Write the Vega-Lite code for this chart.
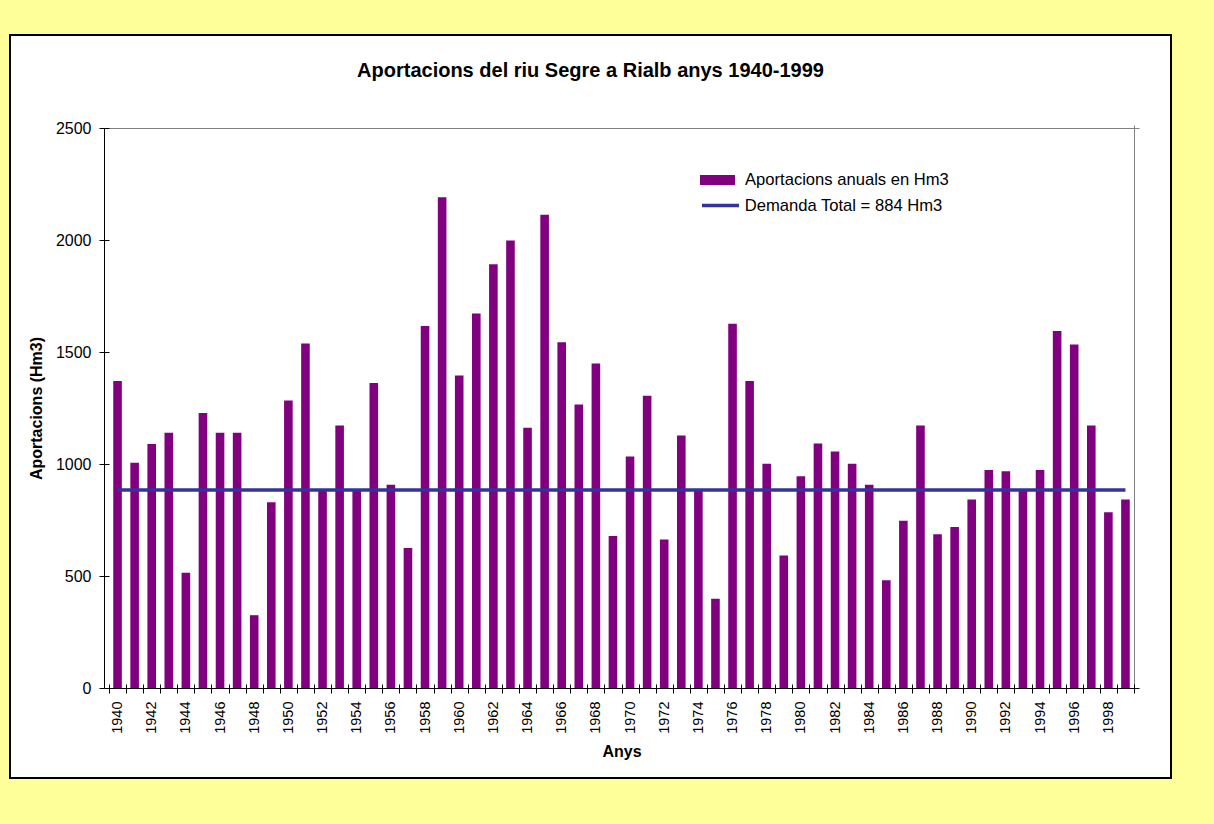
{
  "$schema": "https://vega.github.io/schema/vega-lite/v6.json",
  "width": 1161,
  "height": 743,
  "autosize": {"type": "none"},
  "padding": {"left": 10, "top": 35, "right": 43, "bottom": 46},
  "background": "#FFFF99",
  "title": {
    "text": "Aportacions del riu Segre a Rialb anys 1940-1999",
    "fontSize": 20,
    "fontWeight": "bold",
    "font": "Liberation Sans",
    "color": "#000000",
    "anchor": "middle",
    "frame": "group",
    "offset": -66,
    "baseline": "bottom"
  },
  "config": {
    "view": {"fill": "#FFFFFF", "stroke": "#000000", "strokeWidth": 2},
    "font": "Liberation Sans"
  },
  "data": {
    "values": [
      {"any": 1940, "aportacio": 1371, "demanda": 884},
      {"any": 1941, "aportacio": 1006, "demanda": 884},
      {"any": 1942, "aportacio": 1089, "demanda": 884},
      {"any": 1943, "aportacio": 1140, "demanda": 884},
      {"any": 1944, "aportacio": 514, "demanda": 884},
      {"any": 1945, "aportacio": 1228, "demanda": 884},
      {"any": 1946, "aportacio": 1140, "demanda": 884},
      {"any": 1947, "aportacio": 1140, "demanda": 884},
      {"any": 1948, "aportacio": 325, "demanda": 884},
      {"any": 1949, "aportacio": 829, "demanda": 884},
      {"any": 1950, "aportacio": 1284, "demanda": 884},
      {"any": 1951, "aportacio": 1538, "demanda": 884},
      {"any": 1952, "aportacio": 888, "demanda": 884},
      {"any": 1953, "aportacio": 1172, "demanda": 884},
      {"any": 1954, "aportacio": 888, "demanda": 884},
      {"any": 1955, "aportacio": 1362, "demanda": 884},
      {"any": 1956, "aportacio": 907, "demanda": 884},
      {"any": 1957, "aportacio": 625, "demanda": 884},
      {"any": 1958, "aportacio": 1616, "demanda": 884},
      {"any": 1959, "aportacio": 2191, "demanda": 884},
      {"any": 1960, "aportacio": 1395, "demanda": 884},
      {"any": 1961, "aportacio": 1672, "demanda": 884},
      {"any": 1962, "aportacio": 1892, "demanda": 884},
      {"any": 1963, "aportacio": 1998, "demanda": 884},
      {"any": 1964, "aportacio": 1162, "demanda": 884},
      {"any": 1965, "aportacio": 2113, "demanda": 884},
      {"any": 1966, "aportacio": 1543, "demanda": 884},
      {"any": 1967, "aportacio": 1266, "demanda": 884},
      {"any": 1968, "aportacio": 1449, "demanda": 884},
      {"any": 1969, "aportacio": 679, "demanda": 884},
      {"any": 1970, "aportacio": 1034, "demanda": 884},
      {"any": 1971, "aportacio": 1305, "demanda": 884},
      {"any": 1972, "aportacio": 663, "demanda": 884},
      {"any": 1973, "aportacio": 1127, "demanda": 884},
      {"any": 1974, "aportacio": 888, "demanda": 884},
      {"any": 1975, "aportacio": 398, "demanda": 884},
      {"any": 1976, "aportacio": 1626, "demanda": 884},
      {"any": 1977, "aportacio": 1371, "demanda": 884},
      {"any": 1978, "aportacio": 1001, "demanda": 884},
      {"any": 1979, "aportacio": 592, "demanda": 884},
      {"any": 1980, "aportacio": 945, "demanda": 884},
      {"any": 1981, "aportacio": 1091, "demanda": 884},
      {"any": 1982, "aportacio": 1056, "demanda": 884},
      {"any": 1983, "aportacio": 1001, "demanda": 884},
      {"any": 1984, "aportacio": 907, "demanda": 884},
      {"any": 1985, "aportacio": 481, "demanda": 884},
      {"any": 1986, "aportacio": 747, "demanda": 884},
      {"any": 1987, "aportacio": 1172, "demanda": 884},
      {"any": 1988, "aportacio": 686, "demanda": 884},
      {"any": 1989, "aportacio": 719, "demanda": 884},
      {"any": 1990, "aportacio": 841, "demanda": 884},
      {"any": 1991, "aportacio": 973, "demanda": 884},
      {"any": 1992, "aportacio": 968, "demanda": 884},
      {"any": 1993, "aportacio": 888, "demanda": 884},
      {"any": 1994, "aportacio": 973, "demanda": 884},
      {"any": 1995, "aportacio": 1594, "demanda": 884},
      {"any": 1996, "aportacio": 1533, "demanda": 884},
      {"any": 1997, "aportacio": 1172, "demanda": 884},
      {"any": 1998, "aportacio": 785, "demanda": 884},
      {"any": 1999, "aportacio": 841, "demanda": 884}
    ]
  },
  "resolve": {"axis": {"x": "independent", "y": "independent"}},
  "layer": [
    {
      "mark": {"type": "bar", "size": 8.6},
      "encoding": {
        "x": {
          "field": "any",
          "type": "quantitative",
          "scale": {"domain": [1939.5, 1999.5], "range": [94, 1129], "nice": false, "zero": false},
          "axis": {
            "orient": "bottom",
            "offset": -90,
            "values": [1939.5, 1940.5, 1941.5, 1942.5, 1943.5, 1944.5, 1945.5, 1946.5, 1947.5, 1948.5, 1949.5, 1950.5, 1951.5, 1952.5, 1953.5, 1954.5, 1955.5, 1956.5, 1957.5, 1958.5, 1959.5, 1960.5, 1961.5, 1962.5, 1963.5, 1964.5, 1965.5, 1966.5, 1967.5, 1968.5, 1969.5, 1970.5, 1971.5, 1972.5, 1973.5, 1974.5, 1975.5, 1976.5, 1977.5, 1978.5, 1979.5, 1980.5, 1981.5, 1982.5, 1983.5, 1984.5, 1985.5, 1986.5, 1987.5, 1988.5, 1989.5, 1990.5, 1991.5, 1992.5, 1993.5, 1994.5, 1995.5, 1996.5, 1997.5, 1998.5, 1999.5],
            "title": "Anys",
            "titleFontSize": 16,
            "titleFontWeight": "bold",
            "titleColor": "#000000",
            "titlePadding": 10,
            "labelAngle": -90,
            "labelAlign": "right",
            "labelBaseline": "middle",
            "labelFontSize": 14.5,
            "labelColor": "#000000",
            "labelPadding": 8,
            "labelOffset": 8.63,
            "labelExpr": "(datum.value + 0.5) % 2 == 0 && datum.value < 1999 ? '' + (datum.value + 0.5) : ''",
            "labelOverlap": false,
            "labelFlush": false,
            "labelBound": false,
            "tickSize": 5,
            "tickColor": "#000000",
            "domainColor": "#000000",
            "grid": true,
            "gridColor": "#808080",
            "gridOpacity": {"condition": {"test": "datum.value == 1999.5", "value": 1}, "value": 0},
            "zindex": 1
          }
        },
        "y": {
          "field": "aportacio",
          "type": "quantitative",
          "scale": {"domain": [0, 2500], "range": [653, 93], "nice": false},
          "axis": {
            "orient": "left",
            "offset": -94,
            "values": [0, 500, 1000, 1500, 2000, 2500],
            "format": "d",
            "title": "Aportacions (Hm3)",
            "titleFontSize": 16,
            "titleFontWeight": "bold",
            "titleColor": "#000000",
            "titlePadding": 11,
            "labelFontSize": 16,
            "labelColor": "#000000",
            "labelPadding": 8,
            "labelFlush": false,
            "labelOverlap": false,
            "tickSize": 5,
            "tickColor": "#000000",
            "domainColor": "#000000",
            "grid": true,
            "gridColor": "#808080",
            "gridOpacity": {"condition": {"test": "datum.value == 2500", "value": 1}, "value": 0},
            "zindex": 1
          }
        },
        "fill": {
          "datum": "Aportacions anuals en Hm3",
          "scale": {"range": ["#800080"]},
          "legend": {
            "orient": "none",
            "legendX": 690,
            "legendY": 127.5,
            "title": null,
            "padding": 0,
            "symbolType": "M-1,-0.2857H1V0.2857H-1Z",
            "symbolSize": 1225,
            "symbolStrokeWidth": 0,
            "labelFontSize": 16.6,
            "labelColor": "#000000",
            "labelOffset": 10,
            "labelLimit": 400
          }
        }
      }
    },
    {
      "mark": {"type": "line", "strokeWidth": 3.5},
      "encoding": {
        "x": {
          "field": "any",
          "type": "quantitative",
          "axis": {
            "orient": "top",
            "offset": -653,
            "values": [1939.5, 1940.5, 1941.5, 1942.5, 1943.5, 1944.5, 1945.5, 1946.5, 1947.5, 1948.5, 1949.5, 1950.5, 1951.5, 1952.5, 1953.5, 1954.5, 1955.5, 1956.5, 1957.5, 1958.5, 1959.5, 1960.5, 1961.5, 1962.5, 1963.5, 1964.5, 1965.5, 1966.5, 1967.5, 1968.5, 1969.5, 1970.5, 1971.5, 1972.5, 1973.5, 1974.5, 1975.5, 1976.5, 1977.5, 1978.5, 1979.5, 1980.5, 1981.5, 1982.5, 1983.5, 1984.5, 1985.5, 1986.5, 1987.5, 1988.5, 1989.5, 1990.5, 1991.5, 1992.5, 1993.5, 1994.5, 1995.5, 1996.5, 1997.5, 1998.5, 1999.5],
            "labels": false,
            "domain": false,
            "tickSize": 4,
            "tickColor": "#000000",
            "title": null,
            "grid": false,
            "zindex": 1
          }
        },
        "y": {
          "field": "demanda",
          "type": "quantitative",
          "axis": {
            "orient": "right",
            "offset": -1067,
            "values": [0, 500, 1000, 1500, 2000, 2500],
            "labels": false,
            "domain": false,
            "tickSize": 5,
            "tickColor": "#000000",
            "title": null,
            "grid": false,
            "zindex": 1
          }
        },
        "stroke": {
          "datum": "Demanda Total = 884 Hm3",
          "scale": {"range": ["#333399"]},
          "legend": {
            "orient": "none",
            "legendX": 690,
            "legendY": 150,
            "title": null,
            "padding": 0,
            "symbolType": "stroke",
            "symbolSize": 1369,
            "symbolStrokeWidth": 3.5,
            "labelFontSize": 16.6,
            "labelColor": "#000000",
            "labelOffset": 3.7,
            "labelLimit": 400
          }
        }
      }
    }
  ]
}
